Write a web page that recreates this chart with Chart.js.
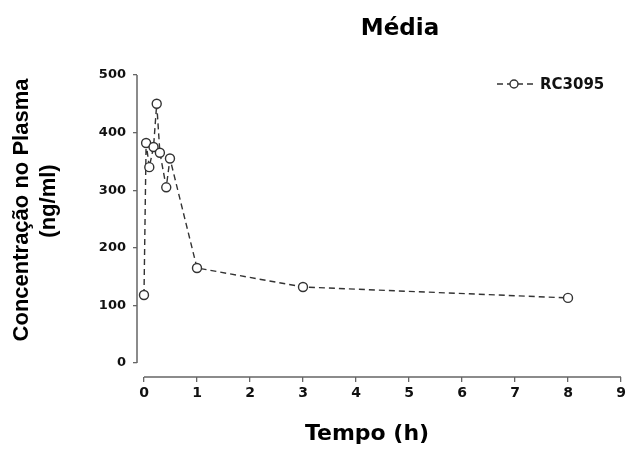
<!DOCTYPE html>
<html>
<head>
<meta charset="utf-8">
<script src="https://cdn.jsdelivr.net/npm/chart.js@4.4.0/dist/chart.umd.min.js"></script>
<style>
  html, body { margin: 0; padding: 0; background: #fff; }
  #wrap { width: 629px; height: 449px; }
</style>
</head>
<body>
<div id="wrap"><canvas id="plasmaChart"></canvas></div>
<script>
// dados (tempo em horas, concentração em ng/ml)
var tempos = [0, 0.04, 0.1, 0.18, 0.24, 0.3, 0.42, 0.49, 1, 3, 8];
var concentracao = [118, 382, 340, 375, 450, 365, 305, 355, 165, 132, 113];
var xTicks = [0, 1, 2, 3, 4, 5, 6, 7, 8, 9];
var yTicks = [0, 100, 200, 300, 400, 500];
var serieNome = 'RC3095';

var tickFont = { family: 'DejaVu Sans', weight: 'bold', size: 13 };

// eixos deslocados, titulos e legenda
var decoracao = {
  id: 'decoracao',
  beforeDatasetsDraw: function(chart) {
    var ctx = chart.ctx, area = chart.chartArea;
    var sx = chart.scales.x, sy = chart.scales.y;
    ctx.save();
    ctx.strokeStyle = '#666';
    ctx.lineWidth = 1.5;
    ctx.beginPath();
    ctx.moveTo(sx.getPixelForValue(xTicks[0]), area.bottom);
    ctx.lineTo(sx.getPixelForValue(xTicks[xTicks.length - 1]), area.bottom);
    ctx.moveTo(area.left, sy.getPixelForValue(yTicks[0]));
    ctx.lineTo(area.left, sy.getPixelForValue(yTicks[yTicks.length - 1]));
    ctx.stroke();
    ctx.restore();
  },
  afterDraw: function(chart) {
    var ctx = chart.ctx;
    var ds = chart.data.datasets[0];
    ctx.save();
    ctx.fillStyle = '#000';
    ctx.textBaseline = 'alphabetic';
    ctx.textAlign = 'center';

    ctx.font = 'bold 23px "DejaVu Sans"';
    ctx.fillText('Média', 400, 35);

    ctx.font = 'bold 22px "DejaVu Sans"';
    ctx.fillText('Tempo (h)', 367, 440);

    ctx.font = 'bold 22px "Liberation Sans"';
    ctx.textBaseline = 'middle';
    ctx.save();
    ctx.translate(22, 210);
    ctx.rotate(-Math.PI / 2);
    ctx.fillText('Concentração no Plasma', 0, 0);
    ctx.restore();
    ctx.save();
    ctx.translate(49, 201);
    ctx.rotate(-Math.PI / 2);
    ctx.fillText('(ng/ml)', 0, 0);
    ctx.restore();

    // legenda
    ctx.strokeStyle = ds.borderColor;
    ctx.lineWidth = ds.borderWidth;
    ctx.setLineDash(ds.borderDash);
    ctx.beginPath();
    ctx.moveTo(497, 84);
    ctx.lineTo(535, 84);
    ctx.stroke();
    ctx.setLineDash([]);
    ctx.beginPath();
    ctx.arc(514, 84, 4, 0, Math.PI * 2);
    ctx.fillStyle = '#fff';
    ctx.fill();
    ctx.strokeStyle = ds.pointBorderColor;
    ctx.stroke();
    ctx.fillStyle = '#111';
    ctx.textAlign = 'left';
    ctx.font = 'bold 15px "DejaVu Sans"';
    ctx.fillText(serieNome, 540, 85);
    ctx.restore();
  }
};

var ctx = document.getElementById('plasmaChart').getContext('2d');

var plasmaChart = new Chart(ctx, {
  type: 'line',
  data: {
    datasets: [{
      label: serieNome,
      data: tempos.map(function(t, i) { return { x: t, y: concentracao[i] }; }),
      borderColor: '#333',
      borderWidth: 1.4,
      borderDash: [6, 4],
      tension: 0,
      fill: false,
      clip: false,
      pointRadius: 4.5,
      pointBackgroundColor: '#fff',
      pointBorderColor: '#333',
      pointBorderWidth: 1.4
    }]
  },
  options: {
    responsive: true,
    maintainAspectRatio: false,
    animation: false,
    layout: { padding: { top: 75, right: 8, left: 0, bottom: 0 } },
    plugins: {
      legend: { display: false },
      title: { display: false },
      tooltip: { enabled: false }
    },
    scales: {
      x: {
        type: 'linear',
        min: -0.132,
        max: 9,
        afterBuildTicks: function(s) { s.ticks = xTicks.map(function(v) { return { value: v }; }); },
        afterFit: function(s) { s.height = 72; },
        border: { display: false },
        grid: { drawOnChartArea: false, tickLength: 5, color: '#666', lineWidth: 1.3 },
        ticks: { autoSkip: false, maxRotation: 0, padding: 3, color: '#111',
                 font: { family: 'DejaVu Sans', weight: 'bold', size: 14 } }
      },
      y: {
        min: -24.3,
        max: 500,
        afterBuildTicks: function(s) { s.ticks = yTicks.map(function(v) { return { value: v }; }); },
        afterFit: function(s) { s.width = 137; },
        border: { display: false },
        grid: { drawOnChartArea: false, tickLength: 4, color: '#666', lineWidth: 1.3 },
        ticks: { autoSkip: false, padding: 7, color: '#111', font: tickFont }
      }
    }
  },
  plugins: [decoracao]
});
</script>
</body>
</html>
